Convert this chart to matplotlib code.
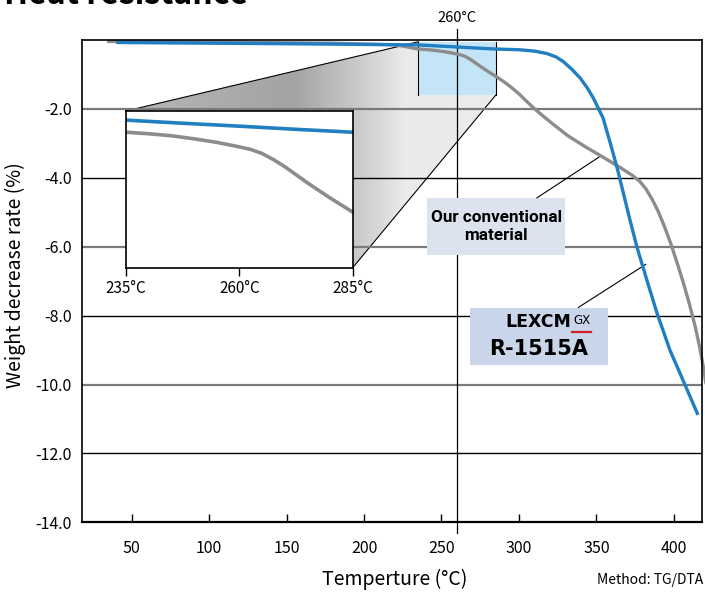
import numpy as np
import matplotlib
matplotlib.use("Agg")
import matplotlib.pyplot as plt
from matplotlib.patches import Polygon, Rectangle
from matplotlib.colors import LinearSegmentedColormap

plt.rcParams['font.family'] = ['Noto Sans CJK JP', 'DejaVu Sans']

# --- data (temperature in degC, weight decrease in %) ---
temp_r1515a = [40, 100, 160, 210, 235, 247, 260, 272, 285, 300, 310, 318, 324, 328.5,
               334, 339.5, 344, 348, 354.3, 358.8, 363.4, 367.2, 371, 376.2, 382.7,
               389.1, 397.5, 405.9, 415.6]
loss_r1515a = [-0.07, -0.09, -0.11, -0.13, -0.14, -0.17, -0.20, -0.23, -0.26, -0.28,
               -0.32, -0.39, -0.49, -0.62, -0.84, -1.10, -1.38, -1.68, -2.26, -2.96,
               -3.71, -4.40, -5.10, -6.01, -6.98, -7.92, -9.00, -9.87, -10.88]

temp_conv = [34, 80, 126, 180, 221, 235, 240, 245, 250, 255, 260, 262.5, 265, 267.5,
             270, 275, 280, 285, 290, 295, 300, 305, 310, 316, 322, 332, 343, 354,
             364, 373, 378, 382, 386, 390, 394, 398, 402, 406, 410, 414, 417, 419.5,
             421.5, 423]
loss_conv = [-0.04, -0.05, -0.07, -0.09, -0.14, -0.26, -0.275, -0.295, -0.325, -0.36,
             -0.405, -0.43, -0.47, -0.53, -0.60, -0.76, -0.91, -1.05, -1.20, -1.37,
             -1.56, -1.78, -1.99, -2.22, -2.44, -2.79, -3.10, -3.39, -3.66, -3.92,
             -4.10, -4.32, -4.62, -4.98, -5.42, -5.90, -6.45, -7.02, -7.65, -8.35,
             -8.98, -9.60, -10.20, -11.0]

x_ticks = [50, 100, 150, 200, 250, 300, 350, 400]
y_ticks = [-2, -4, -6, -8, -10, -12, -14]
zoom_ticks = [235, 260, 285]
zoom_x = (235, 285)
zoom_y = (-1.6, -0.05)
mark_temp = 260

BLUE = '#1f7fc0'
GRAY = '#8c8c8c'

fig = plt.figure(figsize=(7.05, 5.92), dpi=100)
ax = fig.add_axes([0.1159, 0.1176, 0.8794, 0.8147])
ax.set_xlim(17.7, 418)
ax.set_ylim(-14, 0)

# horizontal grid, alternating grey / black
for i, yv in enumerate(y_ticks[:-1]):
    if i % 2 == 0:
        ax.axhline(yv, color='#7a7a7a', lw=1.6, zorder=3)
    else:
        ax.axhline(yv, color='black', lw=1.0, zorder=3)

# 260 degC marker line, sticking out above and below the frame
ax.plot([mark_temp, mark_temp], [0.32, -14.3], color='black', lw=0.9,
        clip_on=False, zorder=3)
ax.text(mark_temp, 0.45, '260°C', ha='center', va='bottom', fontsize=10.5)

# zoomed area
ax.add_patch(Rectangle((zoom_x[0], zoom_y[0]), zoom_x[1] - zoom_x[0],
                       zoom_y[1] - zoom_y[0], facecolor='#c4e5f7',
                       edgecolor='none', zorder=2))
for xv in zoom_x:
    ax.plot([xv, xv], zoom_y, color='black', lw=0.8, zorder=2.5)

ax.plot(temp_conv, loss_conv, color=GRAY, lw=2.4, zorder=5, clip_on=False,
        solid_capstyle='butt')
ax.plot(temp_r1515a, loss_r1515a, color=BLUE, lw=2.4, zorder=6,
        solid_capstyle='butt')

ax.set_xticks(x_ticks)
ax.set_xticklabels([str(v) for v in x_ticks])
ax.set_yticks(y_ticks)
ax.set_yticklabels(['%.1f' % v for v in y_ticks])
ax.tick_params(axis='x', direction='in', length=6, width=1, pad=13, labelsize=11.5)
ax.tick_params(axis='y', length=0, pad=7, labelsize=11.5)
for s in ['left', 'right', 'top']:
    ax.spines[s].set_linewidth(1.2)
ax.spines['bottom'].set_linewidth(1.6)
for s in ax.spines.values():
    s.set_zorder(7)

ax.set_xlabel('Temperture (°C)', fontsize=14, va='center')
ax.xaxis.set_label_coords(0.505, -0.118)
ax.set_ylabel('Weight decrease rate (%)', fontsize=14, va='center')
ax.yaxis.set_label_coords(-0.107, 0.513)

# inset
inset = fig.add_axes([0.1787, 0.5478, 0.3216, 0.2647])
inset.set_xlim(*zoom_x)
inset.set_ylim(*zoom_y)
inset.plot(temp_conv, loss_conv, color=GRAY, lw=2.6)
inset.plot(temp_r1515a, loss_r1515a, color=BLUE, lw=2.6)
inset.set_xticks(zoom_ticks)
inset.set_xticklabels(['%d°C' % v for v in zoom_ticks])
inset.set_yticks([])
inset.tick_params(axis='x', direction='out', length=6, width=1, pad=3, labelsize=11)
for s in inset.spines.values():
    s.set_linewidth(1.2)

# funnel between zoom box and inset
fig.canvas.draw()
to_data = ax.transData.inverted()
ins_tl = to_data.transform(inset.transAxes.transform((0, 1)))
ins_br = to_data.transform(inset.transAxes.transform((1, 0)))
funnel = [ins_tl, (zoom_x[0], zoom_y[1]), (zoom_x[1], zoom_y[1]),
          (zoom_x[1], zoom_y[0]), ins_br, (ins_br[0], ins_tl[1])]
poly = Polygon(funnel, closed=True, facecolor='none', edgecolor='none',
               transform=ax.transData)
ax.add_patch(poly)
cmap = LinearSegmentedColormap.from_list(
    'funnel', [(0.0, (0.74,) * 3), (0.34, (0.64,) * 3), (0.45, (0.80,) * 3),
               (0.52, (0.92,) * 3), (1.0, (0.93,) * 3)])
grad = np.linspace(0, 1, 256).reshape(1, -1)
img = ax.imshow(grad, cmap=cmap, vmin=0, vmax=1, aspect='auto',
                extent=[0, 1, 0, 1], transform=ax.transAxes, zorder=1)
img.set_clip_path(poly)
ax.plot([ins_tl[0], zoom_x[0]], [ins_tl[1], zoom_y[1]], color='black', lw=0.8, zorder=2.5)
ax.plot([zoom_x[1], ins_br[0]], [zoom_y[0], ins_br[1]], color='black', lw=0.8, zorder=2.5)
ax.set_xlim(17.7, 418)
ax.set_ylim(-14, 0)

# labels
ax.add_patch(Rectangle((240.7, -6.24), 89.1, 1.66, facecolor='#dce3ef',
                       edgecolor='none', zorder=4))
ax.text(285.3, -5.41, 'Our conventional\nmaterial', ha='center', va='center',
        fontsize=12.3, fontweight='bold', linespacing=1.25, zorder=8,
        family=['Roboto', 'DejaVu Sans'])
ax.plot([311.6, 352.3], [-4.58, -3.38], color='black', lw=0.8, zorder=4)

ax.add_patch(Rectangle((268.4, -9.43), 89.1, 1.65, facecolor='#c9d6ea',
                       edgecolor='none', zorder=4))
ax.text(312.5, -8.17, 'LEXCM', ha='center', va='center', fontsize=12.5,
        fontweight='bold', zorder=8, family=['DejaVu Sans'])
ax.text(340.5, -8.13, 'GX', ha='center', va='center', fontsize=8.5, zorder=8,
        family=['DejaVu Sans'])
ax.plot([334.5, 346.5], [-8.48, -8.48], color='#d0202a', lw=1.6, zorder=8)
ax.text(313.0, -8.98, 'R-1515A', ha='center', va='center', fontsize=15,
        fontweight='bold', zorder=8, family=['DejaVu Sans'])
ax.plot([338.4, 381.9], [-7.76, -6.51], color='black', lw=0.8, zorder=4)

fig.text(0.997, 1 - 580 / 592, 'Method: TG/DTA', ha='right', va='center', fontsize=10)
fig.text(0.005, 1 - 4 / 592, 'Heat resistance', ha='left', va='baseline',
         fontsize=23, fontweight='bold')

fig.savefig('out.png', dpi=100)
